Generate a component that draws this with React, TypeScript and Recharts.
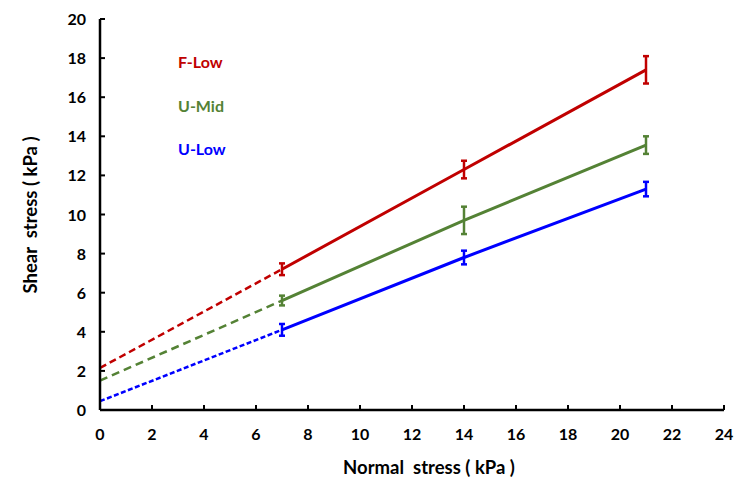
import React from "react";
import { ComposedChart, Line, XAxis, YAxis, ErrorBar } from "recharts";

const normalStress = [7, 14, 21];
const fLow = [7.2, 12.3, 17.4];
const fLowErr = [0.3, 0.45, 0.7];
const uMid = [5.6, 9.7, 13.55];
const uMidErr = [0.25, 0.7, 0.45];
const uLow = [4.1, 7.8, 11.3];
const uLowErr = [0.3, 0.35, 0.37];
// fitted intercepts at zero normal stress
const intercepts = { fLow: 2.15, uMid: 1.5, uLow: 0.45 };

const xTicks = [0, 2, 4, 6, 8, 10, 12, 14, 16, 18, 20, 22, 24];
const yTicks = [0, 2, 4, 6, 8, 10, 12, 14, 16, 18, 20];

const RED = "#C00000";
const GREEN = "#548235";
const BLUE = "#0000FF";
const FONT = "Lato, 'Open Sans', sans-serif";

const toRows = (ys: number[], errs: number[]) =>
  normalStress.map((x, i) => ({ x, y: ys[i], err: errs[i] }));
const toDash = (y0: number, ys: number[]) => [
  { x: 0, y: y0 },
  { x: normalStress[0], y: ys[0] },
];

const XTick = (props: any) => {
  const { x, y, payload } = props;
  return (
    <g>
      <line x1={x} x2={x} y1={y - 14} y2={y - 19} stroke="#000" strokeWidth={2} />
      <text x={x} y={y + 16} textAnchor="middle" fontFamily={FONT} fontWeight={700} fontSize={16} fill="#000">
        {payload.value}
      </text>
    </g>
  );
};

const YTick = (props: any) => {
  const { x, y, payload } = props;
  return (
    <g>
      <line x1={x + 14} x2={x + 19} y1={y} y2={y} stroke="#000" strokeWidth={2} />
      <text x={x} y={y + 6} textAnchor="end" fontFamily={FONT} fontWeight={700} fontSize={16} fill="#000">
        {payload.value}
      </text>
    </g>
  );
};

const tagStyle = (color: string, top: number): React.CSSProperties => ({
  position: "absolute",
  left: 178,
  top,
  color,
  fontFamily: FONT,
  fontWeight: 700,
  fontSize: 16,
  lineHeight: "18px",
  whiteSpace: "pre",
});

const AXIS = { stroke: "#000", strokeWidth: 2.5 };

export default function App() {
  return (
    <div style={{ position: "absolute", left: 0, top: 0, width: 735, height: 482, background: "#fff" }}>
      <ComposedChart width={735} height={482} margin={{ top: 19, right: 11, left: 0, bottom: 0 }}>
        <XAxis
          xAxisId="b"
          type="number"
          dataKey="x"
          domain={[0, 24]}
          ticks={xTicks}
          tickSize={0}
          tickMargin={14}
          tick={<XTick />}
          tickLine={false}
          axisLine={AXIS}
          height={72}
          allowDataOverflow
        />
        <XAxis
          xAxisId="t"
          orientation="top"
          type="number"
          dataKey="x"
          domain={[0, 24]}
          tick={false}
          tickLine={false}
          axisLine={AXIS}
          height={0}
        />
        <YAxis
          yAxisId="l"
          type="number"
          domain={[0, 20]}
          ticks={yTicks}
          tickSize={0}
          tickMargin={14}
          tick={<YTick />}
          tickLine={false}
          axisLine={AXIS}
          width={100}
          allowDataOverflow
        />
        <YAxis
          yAxisId="r"
          orientation="right"
          type="number"
          domain={[0, 20]}
          tick={false}
          tickLine={false}
          axisLine={AXIS}
          width={0}
        />

        <Line xAxisId="b" yAxisId="l" data={toDash(intercepts.fLow, fLow)} dataKey="y" stroke={RED} strokeWidth={2.5} strokeDasharray="7 4" dot={false} isAnimationActive={false} />
        <Line xAxisId="b" yAxisId="l" data={toDash(intercepts.uMid, uMid)} dataKey="y" stroke={GREEN} strokeWidth={2.5} strokeDasharray="8 5" dot={false} isAnimationActive={false} />
        <Line xAxisId="b" yAxisId="l" data={toDash(intercepts.uLow, uLow)} dataKey="y" stroke={BLUE} strokeWidth={2.5} strokeDasharray="5 2.5" dot={false} isAnimationActive={false} />

        <Line xAxisId="b" yAxisId="l" data={toRows(fLow, fLowErr)} dataKey="y" stroke={RED} strokeWidth={3} dot={false} isAnimationActive={false}>
          <ErrorBar dataKey="err" direction="y" width={3} stroke={RED} strokeWidth={2.5} />
        </Line>
        <Line xAxisId="b" yAxisId="l" data={toRows(uMid, uMidErr)} dataKey="y" stroke={GREEN} strokeWidth={3} dot={false} isAnimationActive={false}>
          <ErrorBar dataKey="err" direction="y" width={3} stroke={GREEN} strokeWidth={2.5} />
        </Line>
        <Line xAxisId="b" yAxisId="l" data={toRows(uLow, uLowErr)} dataKey="y" stroke={BLUE} strokeWidth={3} dot={false} isAnimationActive={false}>
          <ErrorBar dataKey="err" direction="y" width={3} stroke={BLUE} strokeWidth={2.5} />
        </Line>
      </ComposedChart>

      <div style={tagStyle(RED, 53)}>F-Low</div>
      <div style={tagStyle(GREEN, 97)}>U-Mid</div>
      <div style={tagStyle(BLUE, 140)}>U-Low</div>

      <div
        style={{
          position: "absolute",
          left: 429,
          top: 467,
          transform: "translate(-50%, -50%)",
          fontFamily: FONT,
          fontWeight: 700,
          fontSize: 18.5,
          whiteSpace: "pre",
        }}
      >
        {"Normal  stress ( kPa )"}
      </div>
      <div
        style={{
          position: "absolute",
          left: 30,
          top: 215,
          transform: "translate(-50%, -50%) rotate(-90deg)",
          fontFamily: FONT,
          fontWeight: 700,
          fontSize: 18.5,
          whiteSpace: "pre",
        }}
      >
        {"Shear  stress ( kPa )"}
      </div>
    </div>
  );
}
